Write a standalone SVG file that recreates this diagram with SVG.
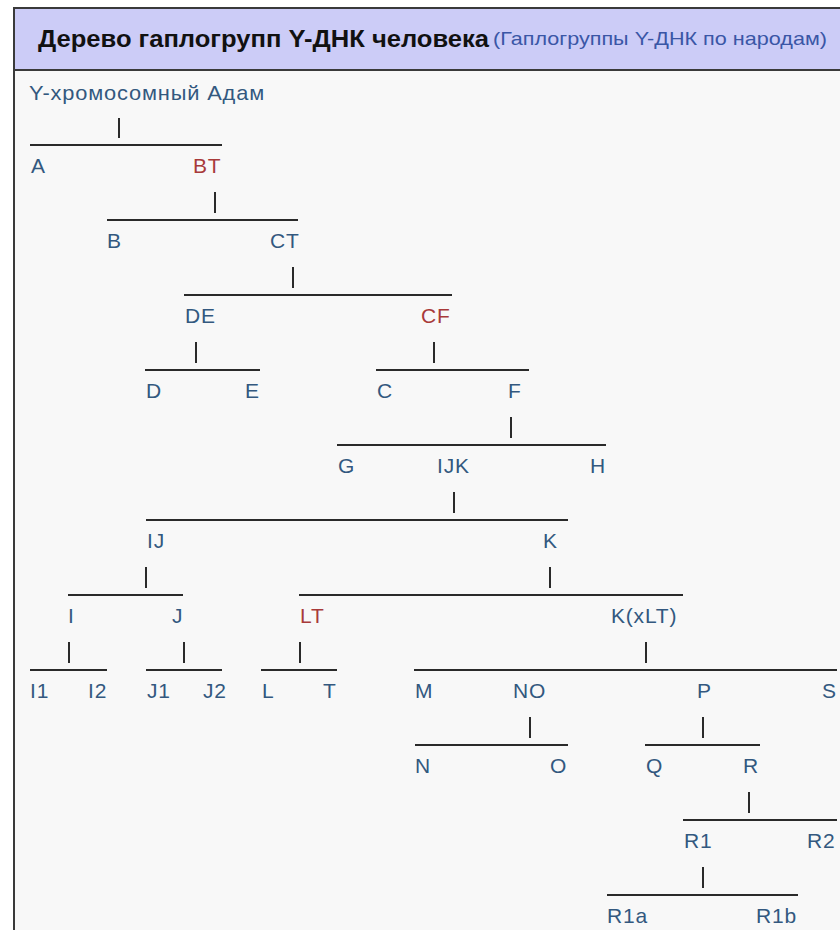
<svg xmlns="http://www.w3.org/2000/svg" width="840" height="930" viewBox="0 0 840 930">
<style>
.lbl{font-family:"Liberation Sans",Arial,sans-serif;font-size:21px;letter-spacing:0.8px;fill:#33587f}
.red{fill:#a83a3a}
.ln{stroke:#2a2a2a;stroke-width:2;fill:none}
.tk{stroke:#2a2a2a;stroke-width:2}
</style>
<rect x="0" y="0" width="840" height="930" fill="#ffffff"/>
<rect x="14" y="8" width="840" height="940" fill="#f8f8f8" stroke="#3a3a3a" stroke-width="2"/>
<rect x="15" y="9" width="830" height="61" fill="#ccccf7"/>
<line x1="14" y1="70" x2="840" y2="70" stroke="#3a3a3a" stroke-width="2"/>
<g id="title">
<text x="38" y="47" font-family="'Liberation Sans',Arial,sans-serif" font-size="24" font-weight="bold" fill="#111" textLength="451" lengthAdjust="spacingAndGlyphs">Дерево гаплогрупп Y-ДНК человека</text>
<text x="493" y="45" font-family="'Liberation Sans',Arial,sans-serif" font-size="19" fill="#3a56a6" textLength="334" lengthAdjust="spacingAndGlyphs">(Гаплогруппы Y-ДНК по народам)</text>
</g>
<g id="connectors">
<line class="ln" x1="30" y1="145" x2="222" y2="145"/>
<line class="ln" x1="107" y1="220" x2="298" y2="220"/>
<line class="ln" x1="184" y1="295" x2="452" y2="295"/>
<line class="ln" x1="145" y1="370" x2="260" y2="370"/>
<line class="ln" x1="376" y1="370" x2="529" y2="370"/>
<line class="ln" x1="337" y1="445" x2="606" y2="445"/>
<line class="ln" x1="146" y1="520" x2="568" y2="520"/>
<line class="ln" x1="68" y1="595" x2="183" y2="595"/>
<line class="ln" x1="299" y1="595" x2="683" y2="595"/>
<line class="ln" x1="30" y1="670" x2="107" y2="670"/>
<line class="ln" x1="146" y1="670" x2="222" y2="670"/>
<line class="ln" x1="261" y1="670" x2="337" y2="670"/>
<line class="ln" x1="414" y1="670" x2="837" y2="670"/>
<line class="ln" x1="415" y1="745" x2="568" y2="745"/>
<line class="ln" x1="645" y1="745" x2="760" y2="745"/>
<line class="ln" x1="683" y1="820" x2="837" y2="820"/>
<line class="ln" x1="607" y1="895" x2="798" y2="895"/>
<line class="tk" x1="119" y1="118" x2="119" y2="138"/>
<line class="tk" x1="215" y1="192" x2="215" y2="213"/>
<line class="tk" x1="293" y1="267" x2="293" y2="288"/>
<line class="tk" x1="196" y1="342" x2="196" y2="363"/>
<line class="tk" x1="434" y1="342" x2="434" y2="363"/>
<line class="tk" x1="511" y1="417" x2="511" y2="438"/>
<line class="tk" x1="454" y1="492" x2="454" y2="513"/>
<line class="tk" x1="146" y1="567" x2="146" y2="588"/>
<line class="tk" x1="550" y1="567" x2="550" y2="588"/>
<line class="tk" x1="69" y1="642" x2="69" y2="663"/>
<line class="tk" x1="184" y1="642" x2="184" y2="663"/>
<line class="tk" x1="300" y1="642" x2="300" y2="663"/>
<line class="tk" x1="646" y1="642" x2="646" y2="663"/>
<line class="tk" x1="530" y1="717" x2="530" y2="738"/>
<line class="tk" x1="703" y1="717" x2="703" y2="738"/>
<line class="tk" x1="749" y1="792" x2="749" y2="813"/>
<line class="tk" x1="703" y1="867" x2="703" y2="888"/>
</g>
<g id="n-adam"><text class="lbl" x="29" y="100" textLength="236" lengthAdjust="spacingAndGlyphs">Y-хромосомный Адам</text></g>
<g id="n-A"><text class="lbl" x="31" y="173">A</text></g>
<g id="n-BT"><text class="lbl red" x="193" y="173">BT</text></g>
<g id="n-B"><text class="lbl" x="107" y="248">B</text></g>
<g id="n-CT"><text class="lbl" x="270" y="248">CT</text></g>
<g id="n-DE"><text class="lbl" x="185" y="323">DE</text></g>
<g id="n-CF"><text class="lbl red" x="421" y="323">CF</text></g>
<g id="n-D"><text class="lbl" x="146" y="398">D</text></g>
<g id="n-E"><text class="lbl" x="245" y="398">E</text></g>
<g id="n-C"><text class="lbl" x="377" y="398">C</text></g>
<g id="n-F"><text class="lbl" x="508" y="398">F</text></g>
<g id="n-G"><text class="lbl" x="338" y="473">G</text></g>
<g id="n-IJK"><text class="lbl" x="437" y="473">IJK</text></g>
<g id="n-H"><text class="lbl" x="590" y="473">H</text></g>
<g id="n-IJ"><text class="lbl" x="147" y="548">IJ</text></g>
<g id="n-K"><text class="lbl" x="543" y="548">K</text></g>
<g id="n-I"><text class="lbl" x="68" y="623">I</text></g>
<g id="n-J"><text class="lbl" x="172" y="623">J</text></g>
<g id="n-LT"><text class="lbl red" x="300" y="623">LT</text></g>
<g id="n-KxLT"><text class="lbl" x="611" y="623">K(xLT)</text></g>
<g id="n-I1"><text class="lbl" x="30" y="698">I1</text></g>
<g id="n-I2"><text class="lbl" x="88" y="698">I2</text></g>
<g id="n-J1"><text class="lbl" x="147" y="698">J1</text></g>
<g id="n-J2"><text class="lbl" x="203" y="698">J2</text></g>
<g id="n-L"><text class="lbl" x="262" y="698">L</text></g>
<g id="n-T"><text class="lbl" x="323" y="698">T</text></g>
<g id="n-M"><text class="lbl" x="415" y="698">M</text></g>
<g id="n-NO"><text class="lbl" x="513" y="698">NO</text></g>
<g id="n-P"><text class="lbl" x="697" y="698">P</text></g>
<g id="n-S"><text class="lbl" x="822" y="698">S</text></g>
<g id="n-N"><text class="lbl" x="415" y="773">N</text></g>
<g id="n-O"><text class="lbl" x="550" y="773">O</text></g>
<g id="n-Q"><text class="lbl" x="646" y="773">Q</text></g>
<g id="n-R"><text class="lbl" x="743" y="773">R</text></g>
<g id="n-R1"><text class="lbl" x="684" y="848">R1</text></g>
<g id="n-R2"><text class="lbl" x="807" y="848">R2</text></g>
<g id="n-R1a"><text class="lbl" x="607" y="923">R1a</text></g>
<g id="n-R1b"><text class="lbl" x="756" y="923">R1b</text></g>
</svg>
